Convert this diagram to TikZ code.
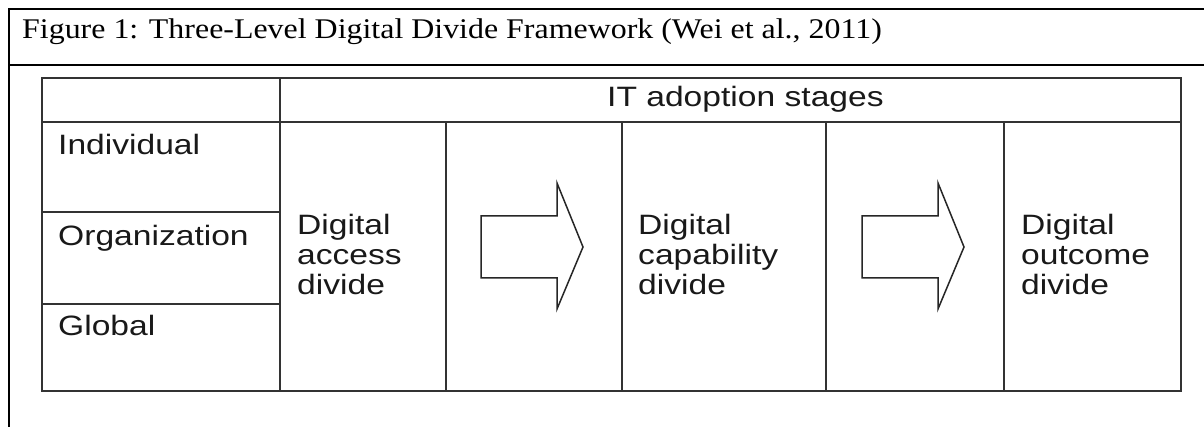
\documentclass[tikz,border=0pt]{standalone}
\usepackage{fontspec}
\setmainfont{Liberation Serif}
\newfontfamily\captionfont[FakeStretch=1.12]{Liberation Serif}
\newfontfamily\cellfont[FakeStretch=1.2]{Liberation Sans}
\begin{document}
\begin{tikzpicture}[x=1pt,y=-1pt,
  framebox/.style={line width=2pt,black},
  grid/.style={line width=1.5pt,black!80},
  bigarrow/.style={line width=1.5pt,black!85,fill=white,line join=miter},
  celltext/.style={anchor=base west,inner sep=0pt,text=black!90,
    font=\cellfont\fontsize{28}{30}\selectfont,align=left},
  titletext/.style={anchor=base west,inner sep=0pt,
    font=\captionfont\fontsize{28.5}{30}\selectfont}]
\useasboundingbox (0,0) rectangle (1204,427);
\fill[white] (0,0) rectangle (1204,427);

% outer caption frame (open to the right and bottom)
\draw[framebox] (9,427) -- (9,9) -- (1204,9);
\draw[framebox] (9,65) -- (1204,65);
\node[titletext] (title) at (22,39) {Figure 1: Three-Level Digital Divide Framework (Wei et al., 2011)};

% table outline
\draw[grid] (42,78) rectangle (1181,391);
\draw[grid] (42,122) -- (1181,122);
\draw[grid] (280,78) -- (280,391);
\foreach \xc in {446,622,826,1004} \draw[grid] (\xc,122) -- (\xc,391);
\draw[grid] (42,212) -- (280,212);
\draw[grid] (42,304) -- (280,304);

% header and level labels
\node[celltext] (stages) at (607,107) {IT adoption stages};
\node[celltext] (indiv) at (58,155) {Individual};
\node[celltext] (org) at (58,246) {Organization};
\node[celltext] (glob) at (58,336) {Global};

% stage labels
\node[celltext,anchor=north west] (access) at (297,214)
  {Digital\\access\\divide};
\node[celltext,anchor=north west] (capab) at (638,214)
  {Digital\\capability\\divide};
\node[celltext,anchor=north west] (outc) at (1021,214)
  {Digital\\outcome\\divide};

% block arrows between stages
\draw[bigarrow] (481,216) -- (557,216) -- (557,183) -- (583,247)
  -- (557,309) -- (557,278) -- (481,278) -- cycle;
\draw[bigarrow] (862,216) -- (938,216) -- (938,183) -- (964,247)
  -- (938,309) -- (938,278) -- (862,278) -- cycle;
\end{tikzpicture}
\end{document}
